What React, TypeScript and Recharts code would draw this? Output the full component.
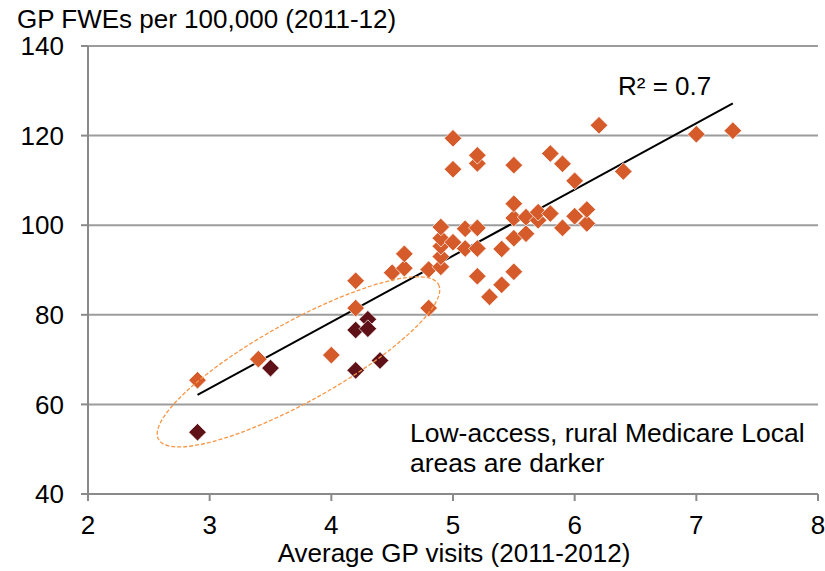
import React from 'react';
import {
  ScatterChart,
  Scatter,
  XAxis,
  YAxis,
  CartesianGrid,
  ReferenceLine,
  ReferenceDot,
  Customized,
} from 'recharts';

// Urban / higher-access Medicare Local areas
const orangePoints = [
  { x: 2.9, y: 65.4 }, { x: 3.4, y: 70.1 }, { x: 4.0, y: 71.0 }, { x: 4.2, y: 87.6 },
  { x: 4.2, y: 81.5 }, { x: 4.5, y: 89.4 }, { x: 4.6, y: 90.4 }, { x: 4.6, y: 93.6 },
  { x: 4.8, y: 81.5 }, { x: 4.8, y: 90.1 }, { x: 4.9, y: 90.7 }, { x: 4.9, y: 93.0 },
  { x: 4.9, y: 95.3 }, { x: 4.9, y: 97.1 }, { x: 4.9, y: 99.6 }, { x: 5.0, y: 96.2 },
  { x: 5.0, y: 112.5 }, { x: 5.0, y: 119.4 }, { x: 5.1, y: 94.8 }, { x: 5.1, y: 99.2 },
  { x: 5.2, y: 88.6 }, { x: 5.2, y: 94.8 }, { x: 5.2, y: 99.4 }, { x: 5.2, y: 113.8 },
  { x: 5.2, y: 115.6 }, { x: 5.3, y: 84.0 }, { x: 5.4, y: 86.7 }, { x: 5.4, y: 94.7 },
  { x: 5.5, y: 89.6 }, { x: 5.5, y: 97.1 }, { x: 5.5, y: 101.6 }, { x: 5.5, y: 104.8 },
  { x: 5.5, y: 113.4 }, { x: 5.6, y: 98.1 }, { x: 5.6, y: 101.8 }, { x: 5.7, y: 101.1 },
  { x: 5.7, y: 102.9 }, { x: 5.8, y: 102.6 }, { x: 5.8, y: 116.0 }, { x: 5.9, y: 99.4 },
  { x: 5.9, y: 113.7 }, { x: 6.0, y: 102.0 }, { x: 6.0, y: 109.9 }, { x: 6.1, y: 100.4 },
  { x: 6.1, y: 103.5 }, { x: 6.2, y: 122.3 }, { x: 6.4, y: 112.0 }, { x: 7.0, y: 120.3 },
  { x: 7.3, y: 121.1 },
];

// Low-access, rural Medicare Local areas
const darkPoints = [
  { x: 2.9, y: 53.8 }, { x: 3.5, y: 68.1 }, { x: 4.2, y: 76.6 }, { x: 4.2, y: 67.6 },
  { x: 4.3, y: 79.0 }, { x: 4.3, y: 76.9 }, { x: 4.4, y: 69.8 },
];

const xTicks = [2, 3, 4, 5, 6, 7, 8];
const yTicks = [40, 60, 80, 100, 120, 140];
const trendLine = [{ x: 2.9, y: 62.1 }, { x: 7.3, y: 127.2 }];
const ellipseCenter = { x: 3.73, y: 69.5 };

const ORANGE = '#D55B2B';
const DARK = '#5E1218';
const FONT = '"Liberation Sans", Arial, sans-serif';

const Diamond = (props: any) => {
  const { cx, cy, fill } = props;
  const r = 8.8;
  return (
    <path
      d={`M${cx},${cy - r}L${cx + r},${cy}L${cx},${cy + r}L${cx - r},${cy}Z`}
      fill={fill}
      stroke="#ffffff"
      strokeWidth={0.7}
    />
  );
};

const EllipseShape = (props: any) => {
  const { cx, cy } = props;
  return (
    <ellipse
      cx={cx}
      cy={cy}
      rx={160}
      ry={40}
      transform={`rotate(-29 ${cx} ${cy})`}
      fill="none"
      stroke="#F79646"
      strokeWidth={1.3}
      strokeDasharray="4 2"
    />
  );
};

const Texts = () => (
  <g fontFamily={FONT} fill="#000">
    <text x={17} y={28} fontSize={26}>GP FWEs per 100,000 (2011-12)</text>
    <text x={618} y={95} fontSize={26}>R² = 0.7</text>
    <text x={410} y={442} fontSize={26.5}>Low-access, rural Medicare Local</text>
    <text x={410} y={472} fontSize={26.5}>areas are darker</text>
    <text x={454} y={562} fontSize={26} textAnchor="middle">Average GP visits (2011-2012)</text>
  </g>
);

export default function App() {
  return (
    <div style={{ position: 'absolute', left: 0, top: 0, background: '#fff' }}>
      <ScatterChart
        width={825}
        height={571}
        margin={{ top: 46, right: 7, bottom: 0, left: 0 }}
        style={{ fontFamily: FONT }}
      >
        <CartesianGrid vertical={false} stroke="#9c9c9c" strokeWidth={2} />
        <XAxis
          type="number"
          dataKey="x"
          domain={[2, 8]}
          ticks={xTicks}
          height={77}
          tickSize={7}
          tickMargin={15}
          stroke="#8a8a8a"
          strokeWidth={2}
          tick={{ fill: '#000', fontSize: 26, fontFamily: FONT }}
          allowDataOverflow
        />
        <YAxis
          type="number"
          dataKey="y"
          domain={[40, 140]}
          ticks={yTicks}
          width={88}
          tickSize={7}
          tickMargin={17}
          stroke="#8a8a8a"
          strokeWidth={2}
          tick={{ fill: '#000', fontSize: 26, fontFamily: FONT }}
          allowDataOverflow
        />
        <Scatter data={orangePoints} fill={ORANGE} shape={Diamond} isAnimationActive={false} />
        <Scatter data={darkPoints} fill={DARK} shape={Diamond} isAnimationActive={false} />
        <ReferenceLine segment={trendLine} stroke="#000" strokeWidth={2} />
        <ReferenceDot x={ellipseCenter.x} y={ellipseCenter.y} shape={EllipseShape} />
        <Customized component={Texts} />
      </ScatterChart>
    </div>
  );
}
